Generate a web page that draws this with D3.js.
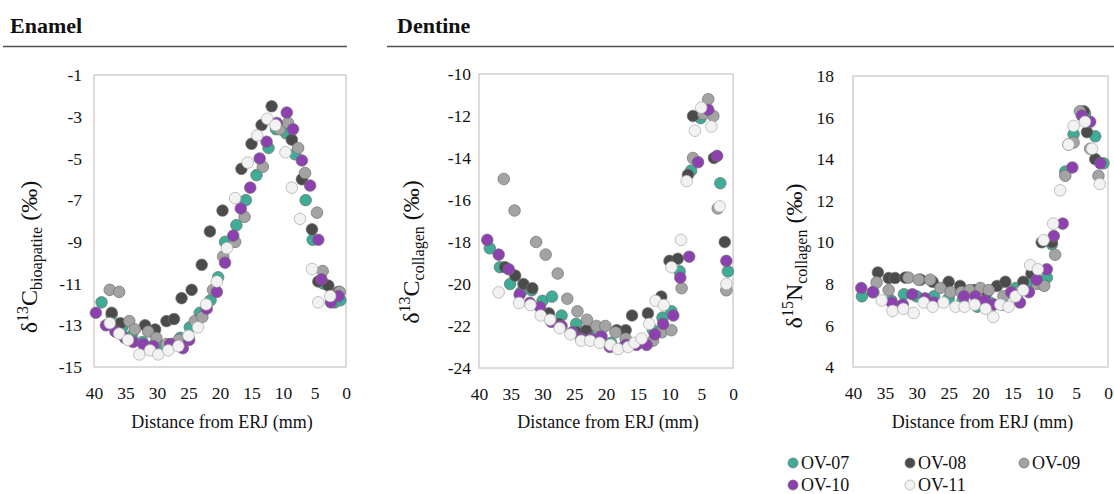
<!DOCTYPE html>
<html>
<head>
<meta charset="utf-8">
<script src="https://cdnjs.cloudflare.com/ajax/libs/d3/7.8.5/d3.min.js"></script>
<style>
body { margin: 0; background: #fff; }
svg text { font-family: "Liberation Serif", Tinos, "DejaVu Serif", "Noto Serif", serif !important; fill: #111; }
</style>
</head>
<body>
<div id="chart"></div>
<script>
var width = 1114;
var height = 494;
var fontStack = "'Liberation Serif', Tinos, 'DejaVu Serif', 'Noto Serif', serif";

var seriesNames = ["OV-07", "OV-08", "OV-09", "OV-10", "OV-11"];
var seriesColors = ["#3fac97", "#4b4b4b", "#a3a3a3", "#8d40b0", "#f2f2f2"];
var xTicks = [40, 35, 30, 25, 20, 15, 10, 5, 0];

// enamel, d13C bioapatite: [distance mm, value]
var enamel07 = [[38.8,-11.9],[37.2,-12.5],[35.5,-13.1],[34.0,-13.5],[32.3,-13.8],[30.7,-14.0],[29.0,-14.0],[27.5,-13.9],[26.3,-13.6],[24.8,-13.1],[23.2,-12.4],[21.5,-11.8],[20.3,-10.7],[19.2,-9.0],[17.4,-8.2],[15.9,-7.0],[14.2,-5.8],[12.3,-4.5],[11.1,-3.6],[9.5,-3.8],[8.1,-4.8],[6.4,-7.0],[5.3,-8.9],[3.6,-11.0],[1.8,-11.9],[0.9,-11.8]];
var enamel08 = [[37.2,-12.4],[35.8,-12.9],[31.9,-13.0],[30.3,-13.2],[28.5,-12.8],[27.3,-12.7],[26.1,-11.7],[24.5,-11.3],[22.9,-10.1],[21.6,-8.5],[19.6,-7.5],[16.6,-5.5],[15.0,-4.3],[13.4,-3.4],[11.8,-2.5],[8.6,-4.1],[7.0,-6.0],[5.4,-8.4],[4.4,-10.9],[2.8,-11.1],[1.2,-11.4]];
var enamel09 = [[37.5,-11.3],[36.0,-11.4],[34.4,-12.8],[33.5,-13.2],[31.4,-13.3],[30.1,-13.6],[28.5,-13.9],[26.5,-13.7],[24.0,-12.8],[22.8,-12.6],[21.1,-11.3],[19.5,-9.7],[17.6,-9.0],[16.1,-7.8],[13.2,-5.4],[10.5,-3.6],[9.2,-3.3],[7.6,-4.5],[6.5,-5.7],[4.6,-7.6],[3.7,-10.4],[1.0,-11.4]];
var enamel10 = [[39.7,-12.4],[38.1,-13.0],[36.6,-13.3],[35.1,-13.6],[33.8,-13.8],[32.2,-13.9],[30.6,-14.0],[27.9,-13.9],[25.9,-14.1],[24.9,-13.7],[22.1,-12.2],[20.5,-11.4],[19.2,-10.0],[17.9,-8.7],[16.7,-7.4],[15.2,-6.4],[13.7,-5.0],[12.6,-4.2],[11.0,-3.3],[9.4,-2.8],[8.4,-3.6],[7.0,-5.1],[5.7,-6.3],[4.4,-8.9],[3.9,-10.8],[2.4,-11.9],[1.2,-11.6]];
var enamel11 = [[37.5,-12.9],[36.0,-13.4],[34.6,-13.7],[32.8,-14.4],[31.1,-14.2],[29.8,-14.4],[28.2,-14.2],[26.6,-14.0],[25.0,-13.5],[23.5,-13.1],[22.2,-12.0],[20.5,-10.9],[18.9,-9.3],[17.6,-6.9],[15.6,-5.2],[14.1,-3.9],[12.5,-3.1],[11.2,-3.4],[9.6,-4.7],[8.6,-6.4],[7.3,-7.9],[5.4,-10.3],[4.4,-11.9],[2.5,-11.6]];

// dentine, d13C collagen
var carbon07 = [[38.3,-18.3],[36.7,-19.2],[35.1,-20.0],[33.4,-20.4],[31.7,-20.3],[30.0,-20.8],[28.5,-20.6],[27.0,-21.5],[24.7,-21.9],[22.8,-22.3],[21.0,-22.5],[19.2,-22.8],[17.0,-22.9],[14.8,-22.8],[12.6,-22.2],[11.1,-21.6],[9.7,-21.3],[8.4,-19.4],[6.6,-14.6],[5.1,-12.1],[2.0,-15.2],[0.8,-19.4]];
var carbon08 = [[35.9,-19.2],[34.3,-19.6],[33.0,-20.0],[31.6,-20.2],[29.0,-21.4],[27.4,-21.9],[24.6,-22.3],[23.1,-22.2],[18.3,-22.2],[16.9,-22.2],[15.9,-21.5],[13.4,-21.4],[11.3,-20.6],[10.0,-18.9],[8.7,-18.8],[7.1,-14.8],[6.3,-12.0],[3.0,-14.0],[1.3,-18.0]];
var carbon09 = [[36.1,-15.0],[34.4,-16.5],[31.0,-18.0],[29.5,-18.6],[27.6,-19.5],[26.1,-20.7],[24.5,-21.3],[23.0,-21.7],[21.5,-22.0],[20.1,-22.0],[18.5,-22.3],[16.9,-22.6],[12.6,-22.7],[11.2,-22.3],[9.7,-22.2],[8.1,-20.2],[6.3,-14.0],[4.7,-11.9],[3.9,-11.2],[3.1,-12.0],[2.4,-16.4],[1.05,-20.3]];
var carbon10 = [[38.7,-17.9],[36.9,-18.6],[35.3,-19.3],[33.6,-20.5],[32.0,-20.9],[30.4,-21.1],[28.6,-21.8],[27.0,-22.0],[25.3,-22.3],[23.9,-22.6],[22.3,-22.6],[20.7,-22.5],[19.4,-23.0],[16.8,-22.9],[15.2,-22.9],[13.6,-22.9],[12.3,-22.4],[11.0,-21.9],[9.4,-21.5],[8.3,-19.7],[6.9,-18.7],[5.5,-14.2],[3.9,-11.7],[2.5,-13.9],[1.05,-18.9]];
var carbon11 = [[36.9,-20.4],[33.7,-20.9],[31.9,-21.0],[30.3,-21.5],[28.8,-21.7],[27.3,-22.1],[25.6,-22.4],[23.9,-22.7],[22.5,-22.7],[21.0,-22.8],[19.3,-22.9],[18.1,-23.1],[16.5,-23.0],[15.5,-22.8],[14.4,-22.6],[13.2,-21.9],[12.2,-20.8],[10.9,-21.0],[9.7,-19.2],[8.2,-17.9],[7.3,-15.1],[6.0,-12.7],[5.0,-11.6],[3.4,-12.5],[2.1,-16.3],[1.05,-20.0]];

// dentine, d15N collagen
var nitrogen07 = [[38.6,7.4],[36.8,7.6],[34.0,7.2],[32.0,7.5],[30.0,7.4],[27.3,7.4],[25.0,7.3],[22.8,7.2],[20.5,6.9],[18.5,7.1],[16.5,7.0],[14.5,7.8],[12.4,8.1],[9.6,8.3],[8.8,9.9],[6.7,13.4],[5.4,15.2],[3.6,16.2],[2.0,15.1],[0.7,13.8]];
var nitrogen08 = [[36.1,8.55],[34.4,8.28],[33.4,8.28],[31.8,8.3],[29.4,8.2],[27.5,8.1],[25.0,8.1],[23.2,7.9],[21.0,7.7],[19.0,7.6],[17.4,7.9],[16.1,8.1],[13.3,8.1],[12.0,8.5],[10.4,10.0],[8.8,10.0],[6.2,14.7],[3.8,16.3],[3.3,15.3],[2.0,14.0]];
var nitrogen09 = [[36.3,8.07],[34.4,7.7],[31.3,8.3],[29.7,8.2],[27.9,8.2],[26.3,7.8],[24.7,7.6],[23.0,7.6],[21.7,7.7],[20.0,7.8],[18.7,7.7],[16.4,7.4],[14.0,7.6],[11.1,8.0],[10.0,7.9],[8.3,9.4],[6.7,13.2],[5.4,14.8],[4.4,16.3],[2.8,14.5],[1.5,13.2]];
var nitrogen10 = [[38.7,7.8],[36.9,7.6],[33.9,7.1],[32.2,7.0],[30.7,7.5],[28.7,7.3],[27.3,7.1],[22.6,7.4],[20.8,7.4],[19.3,7.2],[17.9,7.0],[15.2,7.6],[13.8,7.1],[12.4,7.6],[11.2,8.2],[9.6,8.7],[8.5,10.3],[7.1,10.9],[5.6,13.6],[4.1,16.1],[2.8,15.8],[1.2,13.8]];
var nitrogen11 = [[35.5,7.2],[33.8,6.7],[32.1,6.8],[30.5,6.6],[28.9,7.1],[27.5,6.9],[25.8,7.1],[23.9,6.9],[22.5,6.9],[20.9,7.0],[19.2,6.8],[18.0,6.4],[16.9,7.0],[15.6,6.9],[14.5,7.4],[13.3,7.7],[12.2,8.9],[11.0,8.7],[10.1,10.1],[8.6,10.9],[7.5,12.5],[6.2,14.7],[5.4,15.6],[3.6,15.8],[2.5,14.5],[1.3,12.8]];

var enamelTicks = [-1, -3, -5, -7, -9, -11, -13, -15];
var carbonTicks = [-10, -12, -14, -16, -18, -20, -22, -24];
var nitrogenTicks = [18, 16, 14, 12, 10, 8, 6, 4];

var svg = d3.select("#chart").append("svg")
    .attr("width", width)
    .attr("height", height)
    .attr("font-family", fontStack);

// plain hyphen for negative numbers, like the original
var tickFormat = function (d) { return String(d); };

// section headers
function header(label, x, lineX1, lineX2) {
    svg.append("text").attr("x", x).attr("y", 33)
        .style("font-size", "22px").style("font-weight", "bold")
        .text(label);
    svg.append("line").attr("x1", lineX1).attr("x2", lineX2)
        .attr("y1", 46.5).attr("y2", 46.5)
        .style("stroke", "#505050").style("stroke-width", 1.3);
}
header("Enamel", 10, 3, 347);
header("Dentine", 397, 387, 1114);

function drawPanel(p) {
    var xScale = d3.scaleLinear().domain([40, 0]).range([p.left, p.right]);
    var yScale = d3.scaleLinear().domain(d3.extent(p.ticks)).range([p.bottom, p.top]);

    var g = svg.append("g");

    g.append("rect")
        .attr("x", p.left).attr("y", p.top)
        .attr("width", p.right - p.left).attr("height", p.bottom - p.top)
        .style("fill", "none").style("stroke", "#d0d0d0").style("stroke-width", 1.5);

    var yAxis = d3.axisLeft(yScale).tickValues(p.ticks).tickFormat(tickFormat)
        .tickSize(0).tickPadding(p.pad);
    g.append("g").attr("transform", "translate(" + p.left + ",0)").call(yAxis)
        .attr("font-family", fontStack)
        .call(function (a) { a.select(".domain").remove(); })
        .selectAll("text").style("font-size", "17.5px").attr("fill", "#111");

    var xAxis = d3.axisBottom(xScale).tickValues(xTicks).tickFormat(tickFormat)
        .tickSize(0).tickPadding(20);
    g.append("g").attr("transform", "translate(0," + p.bottom + ")").call(xAxis)
        .attr("font-family", fontStack)
        .call(function (a) { a.select(".domain").remove(); })
        .selectAll("text").style("font-size", "17.5px").attr("fill", "#111");

    g.append("text")
        .attr("x", (p.left + p.right) / 2 + 2).attr("y", 428)
        .attr("text-anchor", "middle").style("font-size", "18px")
        .text("Distance from ERJ (mm)");

    var title = g.append("text")
        .attr("transform", "translate(" + p.titleX + "," + p.titleY + ") rotate(-90)")
        .attr("text-anchor", "middle").style("font-size", "24px");
    title.append("tspan").text("δ");
    title.append("tspan").attr("dy", -9).style("font-size", "16px").text(p.iso);
    title.append("tspan").attr("dy", 9).text(p.el);
    title.append("tspan").attr("dy", 5).style("font-size", "16px").text(p.sub);
    title.append("tspan").attr("dy", -5).text(" (‰)");

    p.series.forEach(function (data, i) {
        g.append("g").selectAll("circle")
            .data(data).enter().append("circle")
            .attr("cx", function (d) { return xScale(d[0]); })
            .attr("cy", function (d) { return yScale(d[1]); })
            .attr("r", 5.8)
            .style("fill", seriesColors[i])
            .style("stroke", i == 4 ? "#a8a8a8" : "#6e6e6e")
            .style("stroke-width", 0.7);
    });
}

drawPanel({left: 94, right: 346, top: 75, bottom: 367, ticks: enamelTicks, pad: 12,
    titleX: 37, titleY: 257, iso: "13", el: "C", sub: "bioapatite",
    series: [enamel07, enamel08, enamel09, enamel10, enamel11]});
drawPanel({left: 479, right: 733, top: 74, bottom: 368, ticks: carbonTicks, pad: 8,
    titleX: 419, titleY: 252, iso: "13", el: "C", sub: "collagen",
    series: [carbon07, carbon08, carbon09, carbon10, carbon11]});
drawPanel({left: 853, right: 1108, top: 76, bottom: 367, ticks: nitrogenTicks, pad: 19,
    titleX: 802, titleY: 256, iso: "15", el: "N", sub: "collagen",
    series: [nitrogen07, nitrogen08, nitrogen09, nitrogen10, nitrogen11]});

// legend
var legendX = [793, 910, 1024];
var legend = svg.append("g").selectAll("g")
    .data(seriesNames).enter().append("g")
    .attr("transform", function (d, i) {
        return "translate(" + legendX[i % 3] + "," + (463 + Math.floor(i / 3) * 22) + ")";
    });
legend.append("circle").attr("r", 5)
    .style("fill", function (d, i) { return seriesColors[i]; })
    .style("stroke", function (d, i) { return i == 4 ? "#a8a8a8" : "#6e6e6e"; })
    .style("stroke-width", 0.7);
legend.append("text").attr("x", 8).attr("y", 6)
    .style("font-size", "18px")
    .text(function (d) { return d; });
</script>
</body>
</html>
